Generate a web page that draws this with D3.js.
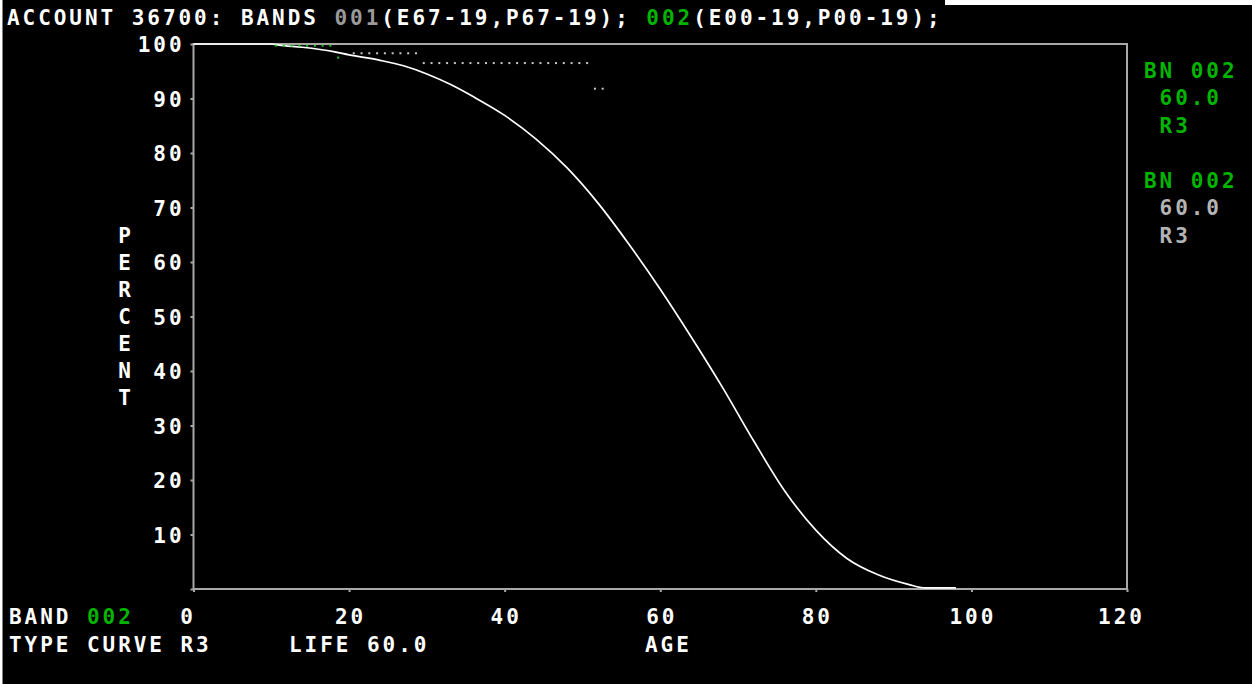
<!DOCTYPE html>
<html><head><meta charset="utf-8">
<script src="https://cdn.jsdelivr.net/npm/d3@7"></script>
<style>
html,body{margin:0;padding:0;background:#fff;overflow:hidden}
svg{display:block}
text{font-family:"DejaVu Sans Mono",monospace;font-weight:bold;font-size:21px;letter-spacing:2.95px}
</style></head>
<body><svg id="c" width="1252" height="684"></svg>
<script>
// Iowa R3 type curve, life 60 (percent surviving vs age)
const curveAges = [0, 10, 11, 14, 18, 20, 24, 27, 30, 33, 36, 40, 44, 48, 52, 56, 60, 64, 68, 72, 76, 80, 84, 88, 92, 94, 98];
const curvePct  = [100, 100, 99.8, 99.4, 98.6, 98.0, 97.0, 96.0, 94.5, 92.6, 90.3, 86.9, 82.6, 77.3, 70.8, 63.2, 55.0, 46.2, 37.0, 27.2, 18.0, 10.8, 5.6, 2.6, 0.8, 0.2, 0.2];
// Observed points, band 002 (green) and band 001 (gray)
const band002Ages = [10.6, 11.6, 12.6, 13.6, 14.6, 15.6, 16.6, 17.6, 18.6];
const band002Pct  = [99.7, 99.7, 99.7, 99.7, 99.7, 99.7, 99.7, 99.7, 97.5];
const band001Ages = [20.6, 21.6, 22.6, 23.6, 24.6, 25.6, 26.6, 27.6, 28.6,
  29.6, 30.6, 31.6, 32.6, 33.6, 34.6, 35.6, 36.6, 37.6, 38.6, 39.6, 40.6,
  41.6, 42.6, 43.6, 44.6, 45.6, 46.6, 47.6, 48.6, 49.6, 50.6, 51.6, 52.6];
const band001Pct  = [98.3, 98.3, 98.3, 98.3, 98.3, 98.3, 98.3, 98.3, 98.3,
  96.5, 96.5, 96.5, 96.5, 96.5, 96.5, 96.5, 96.5, 96.5, 96.5, 96.5, 96.5,
  96.5, 96.5, 96.5, 96.5, 96.5, 96.5, 96.5, 96.5, 96.5, 96.5, 91.8, 91.8];
const xTicks = [0, 20, 40, 60, 80, 100, 120];
const yTicks = [10, 20, 30, 40, 50, 60, 70, 80, 90, 100];
const titleParts = [["ACCOUNT 36700: BANDS ", "w"], ["001", "g"], ["(E67-19,P67-19); ", "w"], ["002", "G"], ["(E00-19,P00-19);", "w"]];
const legend = [["BN 002", "G"], [" 60.0", "G"], [" R3", "G"], ["BN 002", "G"], [" 60.0", "g2"], [" R3", "g2"]];

const col = {w:"#ffffff", g:"#9a9a9a", G:"#00b400", g2:"#b4b4b4"};
const svg = d3.select("#c");
svg.append("rect").attr("x",0).attr("y",0).attr("width",1252).attr("height",684).attr("fill","#fff");
svg.append("rect").attr("x",2.5).attr("y",0).attr("width",1250).attr("height",684).attr("fill","#000");
svg.append("rect").attr("x",945).attr("y",0).attr("width",307).attr("height",5).attr("fill","#fff");

const x = d3.scaleLinear().domain([0,120]).range([193.5,1127]);
const y = d3.scaleLinear().domain([0,100]).range([589,44]);
const axisCol = "#a8a8a8";

// frame
const frame = svg.append("g").attr("stroke",axisCol).attr("stroke-width",2).attr("fill","none");
frame.append("rect").attr("x",x(0)).attr("y",y(100)).attr("width",x(120)-x(0)).attr("height",y(0)-y(100));

// axes ticks
const ya = svg.append("g").attr("transform",`translate(${x(0)},0)`)
  .call(d3.axisLeft(y).tickValues([0].concat(yTicks)).tickSize(3).tickFormat(d=>d===0?"":d).tickPadding(10));
ya.select(".domain").remove();
ya.selectAll("line").attr("stroke",axisCol).attr("stroke-width",2);
ya.selectAll("text").attr("fill","#fff").attr("font-size",null).attr("font-family",null).attr("dy","0.36em").attr("dx","4");

const xa = svg.append("g").attr("transform",`translate(0,${y(0)})`)
  .call(d3.axisBottom(x).tickValues(xTicks).tickSize(3).tickFormat(d=>d));
xa.select(".domain").remove();
xa.selectAll("line").attr("stroke",axisCol).attr("stroke-width",2);
xa.selectAll("text").attr("fill","#fff").attr("font-size",null).attr("font-family",null)
  .attr("y",35).attr("dy",0).attr("dx",d=>d===0?-6:(d===120?-6:1));

// curve
const line = d3.line().x((d,i)=>x(curveAges[i])).y(d=>y(d)).curve(d3.curveMonotoneX);
svg.append("path").datum(curvePct).attr("d",line).attr("fill","none").attr("stroke","#fff").attr("stroke-width",1.7);

// points
svg.append("g").selectAll("rect").data(band001Pct).join("rect")
  .attr("x",(d,i)=>x(band001Ages[i])-1).attr("y",d=>y(d)-1).attr("width",2).attr("height",2).attr("fill","#c8c8c8");
svg.append("g").selectAll("rect").data(band002Pct).join("rect")
  .attr("x",(d,i)=>x(band002Ages[i])-1).attr("y",d=>y(d)-1).attr("width",2).attr("height",2).attr("fill","#22cc22");

// title
const t = svg.append("text").attr("x",7).attr("y",25).attr("xml:space","preserve");
titleParts.forEach(p=>t.append("tspan").attr("fill",col[p[1]]).text(p[0]));

// legend
const legY = [78, 105, 133, 188, 215, 243];
legend.forEach((p,i)=>svg.append("text").attr("x",1144).attr("y",legY[i]).attr("xml:space","preserve").attr("fill",col[p[1]]).text(p[0]));

// PERCENT vertical
"PERCENT".split("").forEach((c,i)=>svg.append("text").attr("x",126).attr("y",243+27*i).attr("text-anchor","middle").attr("fill","#fff").text(c));

// bottom labels
const b1 = svg.append("text").attr("x",9).attr("y",624).attr("xml:space","preserve");
b1.append("tspan").attr("fill","#fff").text("BAND ");
b1.append("tspan").attr("fill",col.G).text("002");
svg.append("text").attr("x",9).attr("y",652).attr("fill","#fff").attr("xml:space","preserve").text("TYPE CURVE R3");
svg.append("text").attr("x",289).attr("y",652).attr("fill","#fff").attr("xml:space","preserve").text("LIFE 60.0");
svg.append("text").attr("x",645).attr("y",652).attr("fill","#fff").text("AGE");
</script></body></html>
